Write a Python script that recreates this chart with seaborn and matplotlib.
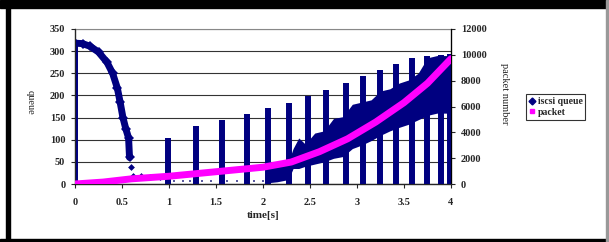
# -------------------------------
# iSCSI QUEUE vs PACKET NUMBER
# -------------------------------
import numpy as np
import matplotlib
matplotlib.use("Agg")
import matplotlib.pyplot as plt
import seaborn as sns
from matplotlib.lines import Line2D
from matplotlib.patches import Rectangle

# -------------------------------
# DATA
# -------------------------------
# slow start: queue falls from the initial peak
decay_t = [0.00, 0.08, 0.16, 0.25, 0.34, 0.40, 0.45, 0.48, 0.51, 0.54, 0.57, 0.58]
decay_q = [318, 317, 311, 298, 275, 250, 217, 185, 150, 125, 104, 60]

# isolated points / flat low part after the drop
flat_t = [0.60, 0.62, 0.70, 0.80, 0.90, 0.98]
flat_q = [38, 18, 17, 16, 16, 15]

# bottom dots between early bursts
low_t = [1.05, 1.15, 1.22, 1.35, 1.45, 1.62, 1.72, 1.90, 2.00]
low_q = [7, 6, 6, 7, 6, 6, 7, 6, 7]

# periodic bursts (columns from 0 up to the top value)
spike_t = [0.00, 0.99, 1.29, 1.56, 1.83, 2.05, 2.28, 2.48, 2.67, 2.88,
           3.06, 3.24, 3.41, 3.59, 3.74, 3.89, 3.99]
spike_top = [318, 104, 131, 145, 158, 171, 184, 198, 213, 228,
             244, 257, 270, 284, 290, 291, 293]

# dense band of queue values in the later part
band_t = [2.06, 2.15, 2.27, 2.32, 2.38, 2.45, 2.55, 2.65, 2.75, 2.85, 2.95,
          3.05, 3.15, 3.25, 3.35, 3.45, 3.55, 3.65, 3.75, 3.85, 4.00]
band_lo = [3, 5, 10, 35, 35, 40, 45, 50, 58, 62, 80,
           88, 98, 110, 120, 128, 135, 145, 155, 160, 160]
band_hi = [35, 45, 50, 80, 104, 90, 115, 120, 148, 152, 180,
           185, 190, 210, 215, 228, 235, 250, 285, 290, 290]

# packet number (right axis)
pkt_t = [0.0, 0.3, 0.6, 1.0, 1.5, 2.0, 2.3, 2.6, 2.9, 3.2, 3.5, 3.75, 4.0]
pkt_n = [0, 150, 400, 600, 950, 1300, 1700, 2500, 3500, 4800, 6300, 7800, 9700]

x_ticks = [0, 0.5, 1, 1.5, 2, 2.5, 3, 3.5, 4]
x_labels = ["0", "0.5", "1", "1.5", "2", "2.5", "3", "3.5", "4"]

NAVY = "#000080"
MAGENTA = "#ff00ff"

# -------------------------------
# STYLE
# -------------------------------
sns.set_style("white")
plt.rcParams["font.family"] = ["Liberation Serif", "DejaVu Serif"]
tick_font = {"family": "Liberation Serif", "weight": "bold", "size": 7.5}

fig = plt.figure(figsize=(6.09, 2.42), dpi=100)
W, H = 609, 242
ax = fig.add_axes([75 / W, 1 - 184 / H, (451 - 75) / W, 155 / H])

# -------------------------------
# QUEUE SERIES
# -------------------------------
ax.fill_between(band_t, band_lo, band_hi, color=NAVY, lw=0, zorder=2)
ax.vlines(spike_t, 0, spike_top, color=NAVY, lw=4.3, zorder=3)
sns.lineplot(x=decay_t, y=decay_q, ax=ax, color=NAVY, lw=5, marker="D",
             markersize=5, markeredgewidth=0, sort=False, zorder=3)
sns.scatterplot(x=flat_t, y=flat_q, ax=ax, color=NAVY, marker="D", s=12,
                linewidth=0, zorder=3)
ax.plot(flat_t[1:], flat_q[1:], color=NAVY, lw=1.4, zorder=3)
sns.scatterplot(x=low_t, y=low_q, ax=ax, color="#5a5aa0", marker="s", s=3,
                linewidth=0, zorder=3)

ax.set_xlim(0, 4)
ax.set_ylim(0, 350)
ax.set_yticks(range(0, 351, 50))
ax.set_xticks(x_ticks)
ax.set_xticklabels(x_labels, fontdict=tick_font)
ax.set_yticklabels([str(v) for v in range(0, 351, 50)], fontdict=tick_font)
ax.grid(axis="y", color="#333333", lw=0.8, zorder=0)
ax.set_axisbelow(True)
ax.tick_params(axis="y", length=3, pad=4, width=0.8, direction="out", left=True)
ax.tick_params(axis="x", length=3, pad=7, width=0.8, direction="out", bottom=True)
for s in ["left", "bottom"]:
    ax.spines[s].set_color("black")
    ax.spines[s].set_linewidth(0.9)
ax.spines["top"].set_color("#888888")
ax.spines["top"].set_linewidth(0.8)
ax.set_xlabel("time[s]", fontdict={"family": "Liberation Serif",
                                   "weight": "bold", "size": 8}, labelpad=3)

# -------------------------------
# PACKET SERIES (right axis)
# -------------------------------
ax2 = ax.twinx()
sns.lineplot(x=pkt_t, y=pkt_n, ax=ax2, color=MAGENTA, lw=5, zorder=5)
ax2.set_ylim(0, 12000)
ax2.set_yticks(range(0, 12001, 2000))
ax2.set_yticklabels([str(v) for v in range(0, 12001, 2000)], fontdict=tick_font)
ax2.tick_params(axis="y", length=3, pad=4, width=0.8, direction="out", right=True)
ax2.spines["right"].set_color("black")
ax2.spines["right"].set_linewidth(0.9)
ax2.spines["top"].set_visible(False)
ax2.set_ylabel("")

fig.text(30 / W, 1 - 102 / H, "queue", rotation=-90, ha="center", va="center",
         fontsize=7.5)
fig.text(505 / W, 1 - 94 / H, "packet number", rotation=-90, ha="center",
         va="center", fontsize=7.5)

# -------------------------------
# LEGEND
# -------------------------------
handles = [
    Line2D([], [], ls="none", marker="D", markersize=3.5, color=NAVY),
    Line2D([], [], ls="none", marker="s", markersize=3.5, color=MAGENTA),
]
leg = fig.legend(handles, ["iscsi queue", "packet"], loc="center left",
                 bbox_to_anchor=(526 / W, 1 - 107 / H), frameon=True,
                 fancybox=False, handlelength=0.6, handletextpad=0.3,
                 borderpad=0.3, labelspacing=0.15, borderaxespad=0,
                 prop={"family": "Liberation Serif", "weight": "bold", "size": 7})
leg.get_frame().set_edgecolor("black")
leg.get_frame().set_linewidth(0.8)

# -------------------------------
# OUTER FRAME
# -------------------------------
fig.patches.append(Rectangle((0, 1 - 8 / H), 1, 8 / H, transform=fig.transFigure,
                             color="black", zorder=10))
fig.patches.append(Rectangle((6 / W, 0), 4 / W, 1, transform=fig.transFigure,
                             color="black", zorder=10))
fig.patches.append(Rectangle((0, 0), 1, 3 / H, transform=fig.transFigure,
                             color="black", zorder=10))
fig.patches.append(Rectangle((606 / W, 0), 2 / W, 1, transform=fig.transFigure,
                             color="#999999", zorder=10))

plt.savefig("out.png", dpi=100)
